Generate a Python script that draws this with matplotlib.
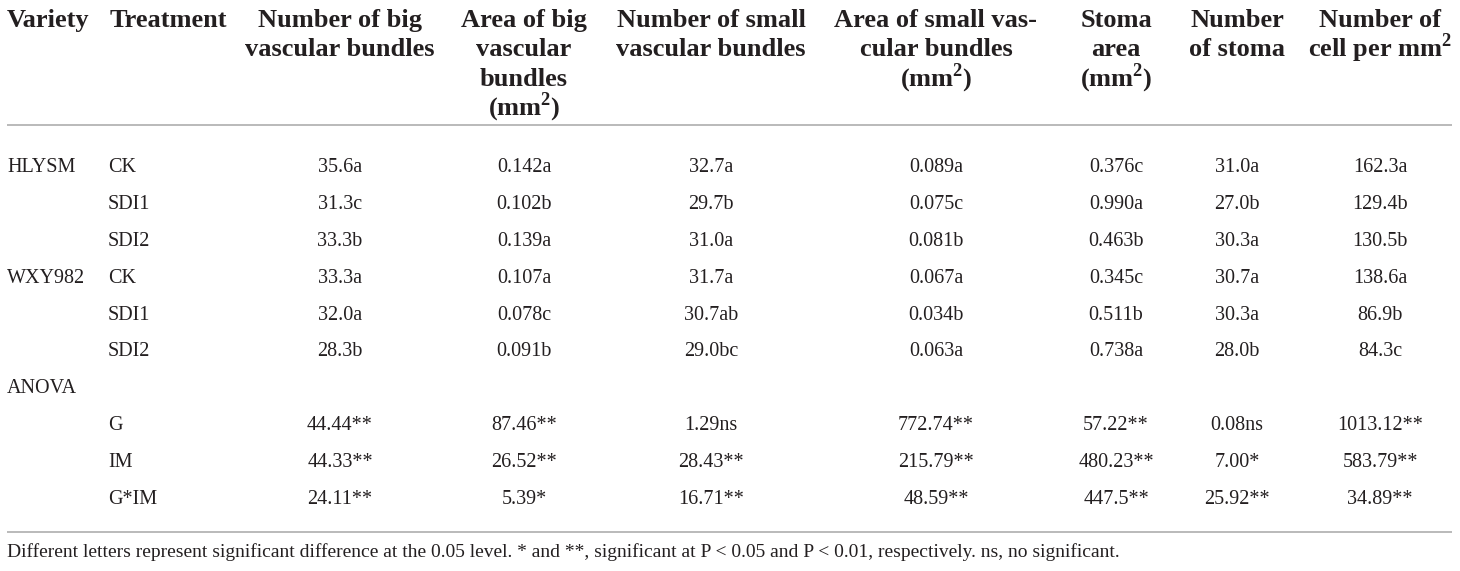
import matplotlib
matplotlib.use("Agg")
import matplotlib.pyplot as plt

plt.rcParams['font.family'] = ['Liberation Serif', 'DejaVu Serif']
plt.rcParams['mathtext.fontset'] = 'custom'
plt.rcParams['mathtext.rm'] = 'Liberation Serif'
plt.rcParams['mathtext.bf'] = 'Liberation Serif:bold'

# Table content
header_variety = "Variety"
header_treatment = "Treatment"
value_headers = [
    ["Number of big", "vascular bundles"],
    ["Area of big", "vascular", "bundles", r"(mm$^{\mathbf{2}}$)"],
    ["Number of small", "vascular bundles"],
    ["Area of small vas-", "cular bundles", r"(mm$^{\mathbf{2}}$)"],
    ["Stoma", "area", r"(mm$^{\mathbf{2}}$)"],
    ["Number", "of stoma"],
    ["Number of", r"cell per mm$^{\mathbf{2}}$"],
]

varieties = ["HLYSM", "", "", "WXY982", "", "", "ANOVA", "", "", ""]
treatments = ["CK", "SDI1", "SDI2", "CK", "SDI1", "SDI2", "", "G", "IM", "G*IM"]

big_bundle_num = ["35.6a", "31.3c", "33.3b", "33.3a", "32.0a", "28.3b", "", "44.44**", "44.33**", "24.11**"]
big_bundle_area = ["0.142a", "0.102b", "0.139a", "0.107a", "0.078c", "0.091b", "", "87.46**", "26.52**", "5.39*"]
small_bundle_num = ["32.7a", "29.7b", "31.0a", "31.7a", "30.7ab", "29.0bc", "", "1.29ns", "28.43**", "16.71**"]
small_bundle_area = ["0.089a", "0.075c", "0.081b", "0.067a", "0.034b", "0.063a", "", "772.74**", "215.79**", "48.59**"]
stoma_area = ["0.376c", "0.990a", "0.463b", "0.345c", "0.511b", "0.738a", "", "57.22**", "480.23**", "447.5**"]
stoma_num = ["31.0a", "27.0b", "30.3a", "30.7a", "30.3a", "28.0b", "", "0.08ns", "7.00*", "25.92**"]
cell_num = ["162.3a", "129.4b", "130.5b", "138.6a", "86.9b", "84.3c", "", "1013.12**", "583.79**", "34.89**"]

columns = [big_bundle_num, big_bundle_area, small_bundle_num, small_bundle_area,
           stoma_area, stoma_num, cell_num]

footnote = ("Different letters represent significant difference at the 0.05 level. * and **, "
            "significant at P < 0.05 and P < 0.01, respectively. ns, no significant.")

# Layout (pixel coordinates)
W, H = 1460, 571
col_centers = [340, 524, 711, 936, 1116, 1237, 1380]
x_variety, x_treat_head, x_treat = 7, 110, 108
head_baselines = [27, 56.5, 86, 115]
row_first, row_step = 172, 36.9
text_color = '#231f20'
rule_color = '#b4b4b4'

fig = plt.figure(figsize=(W / 100, H / 100), dpi=100)
ax = fig.add_axes([0, 0, 1, 1])
ax.set_xlim(0, W)
ax.set_ylim(H, 0)
ax.axis('off')

hkw = dict(fontsize=19, fontweight='bold', color=text_color, va='baseline')
ax.text(x_variety, head_baselines[0], header_variety, ha='left', **hkw)
ax.text(x_treat_head, head_baselines[0], header_treatment, ha='left', **hkw)
for cx, lines in zip(col_centers, value_headers):
    for k, line in enumerate(lines):
        ax.text(cx, head_baselines[k], line, ha='center', **hkw)

# rules
ax.plot([7, 1452], [125, 125], color=rule_color, lw=1.3, solid_capstyle='butt')
ax.plot([7, 1452], [532, 532], color=rule_color, lw=1.3, solid_capstyle='butt')

bkw = dict(fontsize=14.5, color=text_color, va='baseline')
for i in range(len(treatments)):
    y = row_first + i * row_step
    if varieties[i]:
        ax.text(x_variety, y, varieties[i], ha='left', **bkw)
    if treatments[i]:
        ax.text(x_treat, y, treatments[i], ha='left', **bkw)
    for cx, col in zip(col_centers, columns):
        if col[i]:
            ax.text(cx, y, col[i], ha='center', **bkw)

ax.text(x_variety, 557, footnote, ha='left', fontsize=14, color=text_color, va='baseline')

fig.savefig('out.png', dpi=100)
